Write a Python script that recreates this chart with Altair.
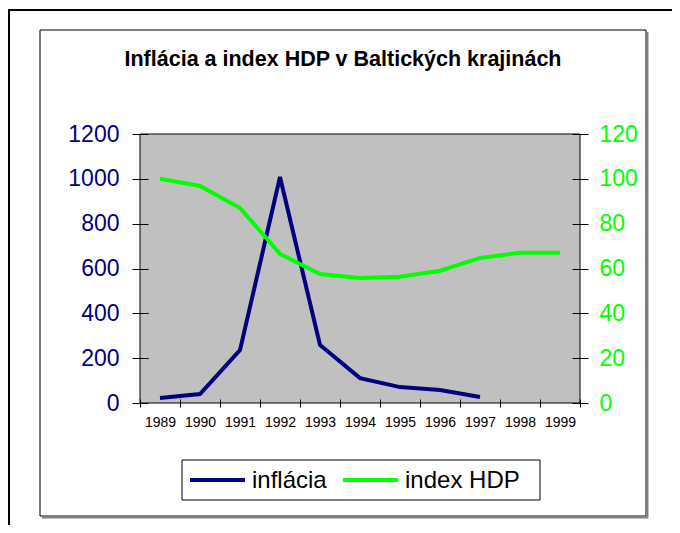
import altair as alt
import pandas as pd

years = [1989, 1990, 1991, 1992, 1993, 1994, 1995, 1996, 1997, 1998, 1999]
inflation = [22, 40, 236, 1008, 259, 111, 71, 58, 27]
gdp_index = [100, 96.8, 87, 66.5, 57.5, 55.8, 56.3, 59, 64.7, 67, 67]
series_names = ["inflácia", "index HDP"]
series_colors = ["#000080", "#00FF00"]
left_ticks = [0, 200, 400, 600, 800, 1000, 1200]
right_ticks = [0, 20, 40, 60, 80, 100, 120]
title_text = "Inflácia a index HDP v Baltických krajinách"

FONT = "Liberation Sans"

df_inf = pd.DataFrame({"year": years[:len(inflation)], "value": inflation, "series": series_names[0]})
df_gdp = pd.DataFrame({"year": years, "value": gdp_index, "series": series_names[1]})

x_enc = alt.X("year:O", title=None,
              scale=alt.Scale(type="band", paddingInner=0, paddingOuter=0),
              axis=alt.Axis(tickBand="extent", domain=False, offset=-4, tickSize=8,
                            tickColor="black", labelAngle=0, labelFontSize=14,
                            labelFont=FONT, labelColor="black", labelPadding=8,
                            zindex=2))

color_enc = alt.Color("series:N",
                      scale=alt.Scale(domain=series_names, range=series_colors),
                      legend=None)

line_inf = alt.Chart(df_inf).mark_line(strokeWidth=4).encode(
    x=x_enc,
    y=alt.Y("value:Q", title=None,
            scale=alt.Scale(domain=[0, 1200], nice=False),
            axis=alt.Axis(values=left_ticks, format="d", orient="left", domain=False, grid=False,
                          offset=-8, tickSize=16, tickColor="black",
                          labelFontSize=23, labelFont=FONT, labelColor="#000080",
                          labelPadding=13, zindex=2)),
    color=color_enc,
)

line_gdp = alt.Chart(df_gdp).mark_line(strokeWidth=4).encode(
    x=x_enc,
    y=alt.Y("value:Q", title=None,
            scale=alt.Scale(domain=[0, 120], nice=False),
            axis=alt.Axis(values=right_ticks, format="d", orient="right", domain=False, grid=False,
                          offset=-8, tickSize=16, tickColor="black",
                          labelFontSize=23, labelFont=FONT, labelColor="#00FF00",
                          labelPadding=11, zindex=2)),
    color=color_enc,
)

deco_src = pd.DataFrame({"k": [0]})

inner_box = alt.Chart(deco_src).mark_rect(fill="white", stroke="black", strokeWidth=1).encode(
    x=alt.value(-100), x2=alt.value(506), y=alt.value(-104), y2=alt.value(382))
shadow_r = alt.Chart(deco_src).mark_rule(color="#808080", strokeWidth=2).encode(
    x=alt.value(507.5), y=alt.value(-102), y2=alt.value(384))
shadow_b = alt.Chart(deco_src).mark_rule(color="#808080", strokeWidth=2).encode(
    x=alt.value(-98), x2=alt.value(508), y=alt.value(383.5))
top_line = alt.Chart(deco_src).mark_rule(color="black", strokeWidth=2).encode(
    x=alt.value(-140), x2=alt.value(540), y=alt.value(-124))
left_line = alt.Chart(deco_src).mark_rule(color="black", strokeWidth=2).encode(
    x=alt.value(-131), y=alt.value(-124), y2=alt.value(400))
plot_bg = alt.Chart(deco_src).mark_rect(fill="#C0C0C0", stroke="black", strokeWidth=1).encode(
    x=alt.value(0), x2=alt.value(440), y=alt.value(0), y2=alt.value(269))
title = alt.Chart(deco_src).mark_text(text=title_text, fontSize=21.5, fontWeight="bold",
                                      font=FONT, color="black", align="center",
                                      baseline="alphabetic").encode(
    x=alt.value(203), y=alt.value(-68))

# legend (drawn as a box with two entries)
legend_box = alt.Chart(deco_src).mark_rect(fill="white", stroke="black", strokeWidth=1).encode(
    x=alt.value(42), x2=alt.value(400), y=alt.value(326), y2=alt.value(366))
legend_parts = [legend_box]
entry_x = [50, 203]
text_x = [112, 265]
for name, col, sx, tx in zip(series_names, series_colors, entry_x, text_x):
    legend_parts.append(
        alt.Chart(deco_src).mark_rule(color=col, strokeWidth=4).encode(
            x=alt.value(sx), x2=alt.value(sx + 55), y=alt.value(346)))
    legend_parts.append(
        alt.Chart(deco_src).mark_text(text=name, fontSize=24, font=FONT, color="black",
                                      align="left", baseline="middle").encode(
            x=alt.value(tx), y=alt.value(347)))

decor = alt.layer(inner_box, shadow_r, shadow_b, top_line, left_line, plot_bg, title)
legend = alt.layer(*legend_parts)

chart = alt.layer(decor, line_inf, line_gdp, legend).resolve_scale(y="independent").properties(
    width=440, height=269,
    autosize=alt.AutoSizeParams(type="none"),
    padding={"left": 132, "top": 126, "right": 92, "bottom": 122},
    background="white",
).configure_view(stroke=None)

chart.save("out.html", embed_options={"renderer": "svg", "actions": False})
